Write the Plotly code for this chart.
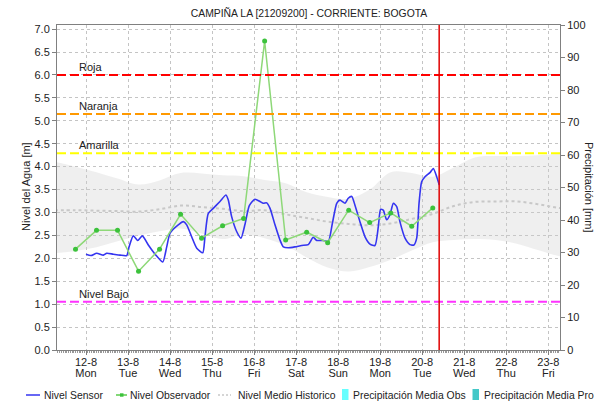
import plotly.graph_objects as go

# ---------------- data ----------------
title_text = "CAMPIÑA LA [21209200] - CORRIENTE: BOGOTA"

sensor_times = [
    "2024-08-12 00:00", "2024-08-12 02:50", "2024-08-12 06:05", "2024-08-12 09:55", "2024-08-12 11:50",
    "2024-08-12 15:35", "2024-08-12 19:25", "2024-08-12 23:15", "2024-08-13 00:35", "2024-08-13 03:00",
    "2024-08-13 05:30", "2024-08-13 08:10", "2024-08-13 11:35", "2024-08-13 15:00", "2024-08-13 16:20",
    "2024-08-13 19:50", "2024-08-13 22:05", "2024-08-14 00:00", "2024-08-14 04:40", "2024-08-14 07:35",
    "2024-08-14 09:30", "2024-08-14 12:20", "2024-08-14 15:15", "2024-08-14 18:40", "2024-08-14 19:55",
    "2024-08-14 21:50", "2024-08-15 00:40", "2024-08-15 04:30", "2024-08-15 07:55", "2024-08-15 09:15",
    "2024-08-15 11:10", "2024-08-15 14:05", "2024-08-15 16:30", "2024-08-15 18:50", "2024-08-15 21:15",
    "2024-08-16 00:30", "2024-08-16 03:20", "2024-08-16 05:15", "2024-08-16 07:10", "2024-08-16 09:05",
    "2024-08-16 11:55", "2024-08-16 14:45", "2024-08-16 16:40", "2024-08-16 19:30", "2024-08-16 23:20",
    "2024-08-17 03:10", "2024-08-17 06:55", "2024-08-17 09:45", "2024-08-17 11:45", "2024-08-17 15:30",
    "2024-08-17 18:20", "2024-08-17 20:40", "2024-08-17 23:10", "2024-08-18 01:00", "2024-08-18 03:55",
    "2024-08-18 05:45", "2024-08-18 07:45", "2024-08-18 09:35", "2024-08-18 12:25", "2024-08-18 15:20",
    "2024-08-18 18:10", "2024-08-18 21:00", "2024-08-18 22:55", "2024-08-19 00:15", "2024-08-19 01:45",
    "2024-08-19 03:40", "2024-08-19 05:35", "2024-08-19 07:30", "2024-08-19 09:25", "2024-08-19 11:15",
    "2024-08-19 14:10", "2024-08-19 17:00", "2024-08-19 19:15", "2024-08-19 20:50", "2024-08-19 22:10",
    "2024-08-19 23:40", "2024-08-20 01:35", "2024-08-20 04:25", "2024-08-20 06:20", "2024-08-20 08:15",
    "2024-08-20 09:45",
]
sensor_values = [
    2.09, 2.06, 2.11, 2.07, 2.11,
    2.09, 2.07, 2.06, 2.25, 2.49,
    2.39, 2.49, 2.29, 2.11, 2.05,
    1.92, 2.25, 2.55, 2.73, 2.80,
    2.73, 2.47, 2.22, 2.12, 2.47,
    2.98, 3.09, 3.24, 3.38, 3.27,
    2.91, 2.58, 2.44, 2.75, 3.15,
    3.29, 3.24, 3.20, 3.21, 3.09,
    2.73, 2.40, 2.25, 2.23, 2.25,
    2.28, 2.30, 2.46, 2.39, 2.39,
    2.36, 2.76, 3.20, 3.27, 3.20,
    3.31, 3.35, 3.16, 2.80, 2.47,
    2.31, 2.28, 2.69, 3.07, 3.05,
    2.84, 2.95, 3.20, 3.13, 2.80,
    2.44, 2.30, 2.29, 2.44, 3.20,
    3.67, 3.78, 3.87, 3.96, 3.78,
    3.60,
]

obs_times = [
    "2024-08-11 18:00", "2024-08-12 06:00", "2024-08-12 18:00", "2024-08-13 06:00", "2024-08-13 18:00",
    "2024-08-14 06:00", "2024-08-14 18:00", "2024-08-15 06:00", "2024-08-15 18:00", "2024-08-16 06:00",
    "2024-08-16 18:00", "2024-08-17 06:00", "2024-08-17 18:00", "2024-08-18 06:00", "2024-08-18 18:00",
    "2024-08-19 06:00", "2024-08-19 18:00", "2024-08-20 06:00",
]
obs_values = [2.20, 2.61, 2.61, 1.72, 2.20, 2.96, 2.44, 2.71, 2.87, 6.74,
              2.40, 2.57, 2.34, 3.05, 2.78, 2.99, 2.70, 3.10]

hist_times = [
    "2024-08-11 06:00", "2024-08-11 18:00", "2024-08-12 06:00", "2024-08-12 18:00", "2024-08-13 06:00",
    "2024-08-13 18:00", "2024-08-14 06:00", "2024-08-14 18:00", "2024-08-15 06:00", "2024-08-15 18:00",
    "2024-08-16 06:00", "2024-08-16 18:00", "2024-08-17 06:00", "2024-08-17 18:00", "2024-08-18 06:00",
    "2024-08-18 18:00", "2024-08-19 06:00", "2024-08-19 18:00", "2024-08-20 06:00", "2024-08-20 18:00",
    "2024-08-21 06:00", "2024-08-21 18:00", "2024-08-22 06:00", "2024-08-22 18:00", "2024-08-23 06:00",
    "2024-08-23 18:00",
]
hist_upper = [4.11, 4.00, 3.88, 3.74, 3.61, 3.70, 3.86, 3.85, 3.81, 3.79, 3.71, 3.64, 3.44,
              3.34, 3.30, 3.50, 3.88, 3.86, 3.78, 3.98, 4.20, 4.23, 4.23, 4.25, 4.28, 4.28]
hist_lower = [2.11, 2.16, 2.24, 2.37, 2.49, 2.59, 2.65, 2.54, 2.42, 2.52, 2.44, 2.28, 2.02,
              1.80, 1.71, 1.81, 1.97, 2.17, 2.35, 2.40, 2.42, 2.40, 2.32, 2.18, 2.05, 2.00]
hist_median = [3.05, 3.05, 3.04, 3.03, 3.02, 3.07, 3.15, 3.12, 3.08, 3.03, 3.05, 2.96, 2.88,
               2.80, 2.75, 2.72, 2.76, 2.86, 2.97, 3.14, 3.23, 3.24, 3.24, 3.18, 3.10, 3.06]

threshold_names = ["Roja", "Naranja", "Amarilla", "Nivel Bajo"]
threshold_values = [6.0, 5.15, 4.29, 1.05]
threshold_colors = ["#FF0000", "#FF9900", "#FFFF00", "#FF33FF"]

now_time = "2024-08-20 09:40"
x_range = ["2024-08-11 07:26", "2024-08-23 06:40"]

legend_names = ["Nivel Sensor", "Nivel Observador", "Nivel Medio Historico",
                "Precipitación Media Obs", "Precipitación Media Pro"]

# ---------------- styling / layout helpers ----------------
W, H = 597, 405
L, R, T, B = 57, 560, 25, 350
FONT = "Liberation Sans, Arial, sans-serif"
TXT = "#222222"


def px(x):
    return (x - L) / (R - L)


def py(y):
    return (B - y) / (B - T)


fig = go.Figure()

# historical band
fig.add_trace(go.Scatter(x=hist_times, y=hist_lower, mode="lines",
                         line=dict(width=0, shape="spline"), hoverinfo="skip", showlegend=False))
fig.add_trace(go.Scatter(x=hist_times, y=hist_upper, mode="lines",
                         line=dict(width=0, shape="spline"), fill="tonexty",
                         fillcolor="rgba(205,205,205,0.32)", hoverinfo="skip", showlegend=False))
# historical median
fig.add_trace(go.Scatter(x=hist_times, y=hist_median, mode="lines", name=legend_names[2],
                         line=dict(color="#C8C8C8", width=2, dash="dot", shape="spline"),
                         showlegend=False))
# sensor
fig.add_trace(go.Scatter(x=sensor_times, y=sensor_values, mode="lines", name=legend_names[0],
                         line=dict(color="#3535F0", width=1.6, shape="spline", smoothing=0.6),
                         showlegend=False))
# observer
fig.add_trace(go.Scatter(x=obs_times, y=obs_values, mode="lines+markers", name=legend_names[1],
                         line=dict(color="#8ED878", width=1.5),
                         marker=dict(color="#3CC23C", size=5), showlegend=False))
# precipitation (no data) on secondary axis
fig.add_trace(go.Bar(x=[None], y=[None], yaxis="y2", name=legend_names[3],
                     marker_color="#66FFFF", showlegend=False))
fig.add_trace(go.Bar(x=[None], y=[None], yaxis="y2", name=legend_names[4],
                     marker_color="#44C8C8", showlegend=False))
# invisible trace carrying the weekday tick axis
fig.add_trace(go.Scatter(x=[x_range[0]], y=[None], xaxis="x2", mode="lines",
                         hoverinfo="skip", showlegend=False))

shapes = []
annotations = []
for name, val, col in zip(threshold_names, threshold_values, threshold_colors):
    shapes.append(dict(type="line", xref="paper", yref="y", x0=0, x1=1, y0=val, y1=val,
                       line=dict(color=col, width=2, dash="9px,4px")))
    annotations.append(dict(xref="paper", yref="y", x=px(77), y=val, text=name, showarrow=False,
                            xanchor="left", yanchor="bottom", yshift=0,
                            font=dict(family=FONT, size=11, color=TXT)))

# "now" vertical line
shapes.append(dict(type="line", xref="x", yref="paper", x0=now_time, x1=now_time, y0=0, y1=1,
                   line=dict(color="#E00000", width=1.5)))

# axis titles
annotations.append(dict(xref="paper", yref="paper", x=px(26), y=py(187), text="Nivel del Agua [m]",
                        textangle=-90, showarrow=False, xanchor="center", yanchor="middle",
                        font=dict(family=FONT, size=11, color=TXT)))
annotations.append(dict(xref="paper", yref="paper", x=px(589), y=py(187), text="Precipitación [mm]",
                        textangle=90, showarrow=False, xanchor="center", yanchor="middle",
                        font=dict(family=FONT, size=11, color=TXT)))

# manual legend
LEG_FS = 10.4
ly = py(395)
shapes.append(dict(type="line", xref="paper", yref="paper", x0=px(26), x1=px(40), y0=ly, y1=ly,
                   line=dict(color="#3535F0", width=1.5)))
shapes.append(dict(type="line", xref="paper", yref="paper", x0=px(116), x1=px(127), y0=ly, y1=ly,
                   line=dict(color="#5ACB4A", width=1.5)))
shapes.append(dict(type="rect", xref="paper", yref="paper", x0=px(120), x1=px(123.5),
                   y0=py(396.7), y1=py(393.3), fillcolor="#3CC23C", line=dict(width=0)))
shapes.append(dict(type="line", xref="paper", yref="paper", x0=px(218), x1=px(231), y0=ly, y1=ly,
                   line=dict(color="#C8C8C8", width=1.5, dash="2px,2px")))
shapes.append(dict(type="rect", xref="paper", yref="paper", x0=px(342), x1=px(348.5),
                   y0=py(400), y1=py(389), fillcolor="#66FFFF", line=dict(width=0)))
shapes.append(dict(type="rect", xref="paper", yref="paper", x0=px(472.5), x1=px(479),
                   y0=py(400), y1=py(389), fillcolor="#44C8C8", line=dict(width=0)))
legend_x = [42, 128, 235.5, 350.5, 481.5]
for name, lx in zip(legend_names, legend_x):
    annotations.append(dict(xref="paper", yref="paper", x=px(lx), y=ly, text=name, showarrow=False,
                            xanchor="left", yanchor="middle",
                            font=dict(family=FONT, size=LEG_FS, color=TXT)))

grid_col = "#C4C4C4"
fig.update_layout(
    width=W, height=H,
    margin=dict(l=L, r=W - R, t=T, b=H - B),
    paper_bgcolor="white", plot_bgcolor="white",
    showlegend=False,
    title=dict(text=title_text, x=px(309), xanchor="center", xref="paper",
               y=1 - 13 / H, yref="container", yanchor="middle",
               font=dict(family=FONT, size=10.4, color=TXT)),
    font=dict(family=FONT, size=11, color=TXT),
    xaxis=dict(type="date", range=x_range, tick0="2024-08-12", dtick=86400000,
               tickformat="%-d-%-m", showgrid=True, gridcolor=grid_col, griddash="dot",
               gridwidth=1, ticks="outside", ticklen=4, tickcolor="#808080",
               showline=True, linecolor="#808080", mirror=True, zeroline=False,
               ticklabelstandoff=-2,
               tickfont=dict(family=FONT, size=11, color=TXT),
               minor=dict(dtick=3600000, ticks="outside", ticklen=2, tickcolor="#999999",
                          showgrid=False)),
    xaxis2=dict(type="date", matches="x", overlaying="x", side="bottom", anchor="y",
                tick0="2024-08-12", dtick=86400000, tickformat="%a", showgrid=False,
                showline=False, ticks="outside", ticklen=15, tickcolor="rgba(0,0,0,0)",
                zeroline=False, ticklabelstandoff=-2,
                tickfont=dict(family=FONT, size=11, color=TXT)),
    yaxis=dict(range=[0, 7.09], dtick=0.5, tick0=0, tickformat=".1f", showgrid=True,
               gridcolor=grid_col, griddash="dot", gridwidth=1, ticks="outside", ticklen=4,
               tickcolor="#808080", showline=True, linecolor="#808080", zeroline=False,
               tickfont=dict(family=FONT, size=11, color=TXT)),
    yaxis2=dict(range=[0, 100], dtick=10, tick0=0, overlaying="y", side="right", showgrid=False,
                ticks="outside", ticklen=4, tickcolor="#808080", showline=True,
                linecolor="#808080", zeroline=False,
                tickfont=dict(family=FONT, size=11, color=TXT)),
    shapes=shapes,
    annotations=annotations,
)

fig.write_html("out.html", config={"displayModeBar": False},
               post_script="document.body.style.margin='0';document.body.style.padding='0';")
